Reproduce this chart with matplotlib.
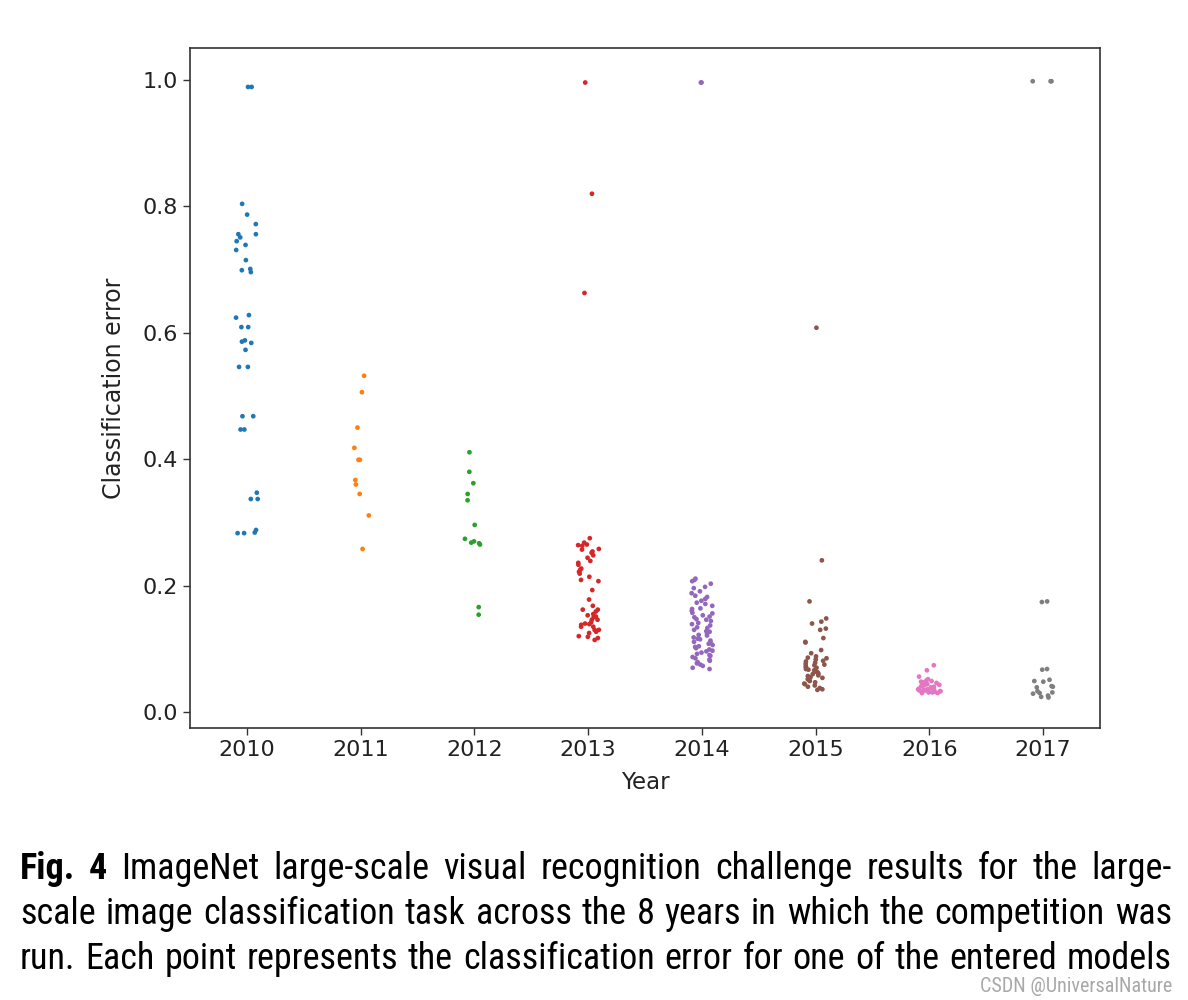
import matplotlib
matplotlib.use("Agg")
import matplotlib.pyplot as plt
from matplotlib import font_manager
import numpy as np
import pandas as pd
import seaborn as sns

# ILSVRC classification error per entry
years = ["2010", "2011", "2012", "2013", "2014", "2015", "2016", "2017"]

err_2010 = [0.989, 0.989, 0.804, 0.787, 0.772, 0.756, 0.756, 0.751, 0.745, 0.739,
            0.731, 0.715, 0.701, 0.699, 0.696, 0.628, 0.624, 0.609, 0.609, 0.588,
            0.586, 0.584, 0.573, 0.546, 0.546, 0.468, 0.468, 0.447, 0.447, 0.347,
            0.337, 0.337, 0.288, 0.284, 0.283, 0.283]
err_2011 = [0.532, 0.506, 0.450, 0.418, 0.399, 0.399, 0.367, 0.360, 0.345, 0.311, 0.258]
err_2012 = [0.411, 0.380, 0.362, 0.345, 0.335, 0.296, 0.274, 0.270, 0.268, 0.267,
            0.265, 0.166, 0.154]
err_2013 = [0.996, 0.820, 0.663, 0.275, 0.268, 0.265, 0.264, 0.263, 0.258, 0.257,
            0.254, 0.252, 0.248, 0.244, 0.239, 0.236, 0.233, 0.227, 0.225, 0.222,
            0.219, 0.214, 0.209, 0.207, 0.193, 0.178, 0.168, 0.162, 0.162, 0.159,
            0.155, 0.153, 0.151, 0.150, 0.146, 0.146, 0.142, 0.140, 0.139, 0.138,
            0.135, 0.135, 0.130, 0.130, 0.127, 0.125, 0.120, 0.119, 0.117, 0.114]
err_2014 = [0.996, 0.996, 0.211, 0.209, 0.207, 0.203, 0.198, 0.196, 0.191, 0.188,
            0.184, 0.182, 0.179, 0.176, 0.173, 0.171, 0.168, 0.164, 0.163, 0.160,
            0.157, 0.156, 0.153, 0.151, 0.150, 0.147, 0.146, 0.144, 0.141, 0.139,
            0.137, 0.134, 0.133, 0.130, 0.128, 0.127, 0.124, 0.122, 0.121, 0.118,
            0.116, 0.115, 0.113, 0.111, 0.110, 0.108, 0.106, 0.104, 0.103, 0.101,
            0.099, 0.097, 0.096, 0.094, 0.092, 0.090, 0.089, 0.087, 0.085, 0.083,
            0.081, 0.079, 0.077, 0.075, 0.073, 0.070, 0.068]
err_2015 = [0.608, 0.240, 0.175, 0.148, 0.143, 0.140, 0.132, 0.130, 0.117, 0.111,
            0.110, 0.098, 0.093, 0.088, 0.086, 0.085, 0.083, 0.081, 0.080, 0.078,
            0.076, 0.075, 0.074, 0.072, 0.071, 0.070, 0.068, 0.067, 0.066, 0.064,
            0.063, 0.061, 0.060, 0.058, 0.057, 0.055, 0.054, 0.052, 0.050, 0.049,
            0.047, 0.045, 0.044, 0.042, 0.040, 0.038, 0.036, 0.035]
err_2016 = [0.074, 0.066, 0.056, 0.052, 0.050, 0.049, 0.048, 0.047, 0.046, 0.045,
            0.044, 0.043, 0.042, 0.041, 0.040, 0.039, 0.038, 0.037, 0.036, 0.036,
            0.035, 0.035, 0.034, 0.034, 0.033, 0.033, 0.032, 0.032, 0.031, 0.031,
            0.030, 0.030]
err_2017 = [0.998, 0.998, 0.998, 0.175, 0.174, 0.068, 0.067, 0.051, 0.049, 0.048,
            0.041, 0.040, 0.039, 0.033, 0.031, 0.030, 0.029, 0.026, 0.024, 0.023]

y_ticks = [0.0, 0.2, 0.4, 0.6, 0.8, 1.0]

caption_lines = [
    "ImageNet large-scale visual recognition challenge results for the large-",
    "scale image classification task across the 8 years in which the competition was",
    "run. Each point represents the classification error for one of the entered models",
]

W, H = 1188, 1000

# pick the narrowest sans family that is actually installed
installed = {f.name for f in font_manager.fontManager.ttflist}
narrow = [n for n in ["Liberation Sans Narrow", "DejaVu Sans Condensed", "Roboto Condensed",
                      "Roboto", "Liberation Sans"] if n in installed]
CAPTION_FONT = narrow[:1] + ["DejaVu Sans"]
is_condensed = CAPTION_FONT[0] in ("Liberation Sans Narrow", "DejaVu Sans Condensed", "Roboto Condensed")

plt.rcParams["font.family"] = "DejaVu Sans"

all_err = [err_2010, err_2011, err_2012, err_2013, err_2014, err_2015, err_2016, err_2017]
df = pd.DataFrame({
    "Year": [y for y, vals in zip(years, all_err) for _ in vals],
    "Classification error": [v for vals in all_err for v in vals],
})

np.random.seed(3)
fig = plt.figure(figsize=(W / 100, H / 100), dpi=100)
ax = fig.add_axes([190 / W, 1 - 728 / H, 910 / W, 680 / H])
sns.stripplot(data=df, x="Year", y="Classification error", hue="Year", order=years,
              palette="tab10", size=3.4, jitter=0.1, legend=False, ax=ax)
ax.set_xlim(-0.5, 7.5)
ax.set_ylim(-0.0253, 1.0506)
ax.set_yticks(y_ticks)
ax.set_yticklabels([f"{t:.1f}" for t in y_ticks])
ax.tick_params(labelsize=16, length=5, width=1.0, color="#333333", labelcolor="#222222")
ax.set_xlabel("Year", fontsize=16.5, color="#222222", labelpad=8)
ax.set_ylabel("Classification error", fontsize=17, color="#222222", labelpad=12)
for sp in ax.spines.values():
    sp.set_color("#333333")
    sp.set_linewidth(1.2)


def justified_line(renderer, words, y_px, x0, x1, size):
    texts = []
    for word, bold in words:
        t = fig.text(0, 1 - y_px / H, word, fontsize=size, family=CAPTION_FONT,
                     fontweight="bold" if bold else "normal", va="baseline", ha="left")
        texts.append(t)
    widths = [t.get_window_extent(renderer).width for t in texts]
    gap = (x1 - x0 - sum(widths)) / (len(texts) - 1)
    x = x0
    for t, w in zip(texts, widths):
        t.set_x(x / W)
        x += w + gap


renderer = fig.canvas.get_renderer()
line_words = [[("Fig.", True), ("4", True)] + [(w, False) for w in caption_lines[0].split()]]
line_words += [[(w, False) for w in line.split()] for line in caption_lines[1:]]
cap_size = 26 if is_condensed else 21
for i, words in enumerate(line_words):
    justified_line(renderer, words, 879 + 45 * i, 20, 1172, cap_size)

fig.text(1172 / W, 1 - 992 / H, "CSDN @UniversalNature", fontsize=14.5 if is_condensed else 12.5,
         family=CAPTION_FONT, color="#a8a8a8", ha="right", va="baseline")

fig.savefig("out.png", dpi=100)
plt.close(fig)
